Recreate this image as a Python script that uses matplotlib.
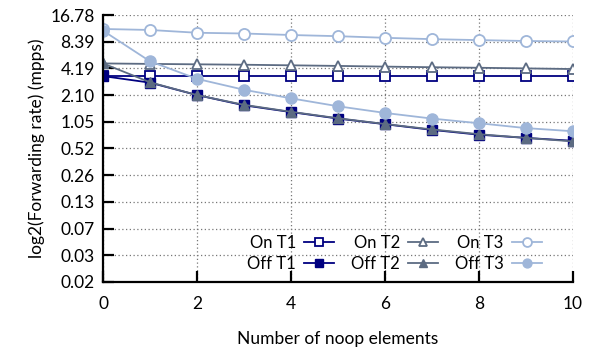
import matplotlib.pyplot as plt
import numpy as np

# Datos
noop = np.arange(0, 11)
on_t1 = [3.44, 3.44, 3.44, 3.44, 3.44, 3.44, 3.44, 3.44, 3.44, 3.44, 3.44]
off_t1 = [3.44, 2.90, 2.10, 1.61, 1.35, 1.14, 0.985, 0.85, 0.75, 0.69, 0.64]
on_t2 = [4.78, 4.72, 4.67, 4.62, 4.55, 4.48, 4.40, 4.33, 4.27, 4.20, 4.13]
off_t2 = [4.78, 2.93, 2.10, 1.63, 1.36, 1.15, 0.99, 0.86, 0.76, 0.69, 0.63]
on_t3 = [11.7, 11.4, 10.6, 10.4, 10.0, 9.7, 9.3, 8.98, 8.76, 8.56, 8.45]
off_t3 = [11.2, 5.05, 3.2, 2.41, 1.93, 1.57, 1.32, 1.14, 1.01, 0.89, 0.82]
yticks = [16.78 / 2 ** k for k in range(11)]
ylabels = ["16.78", "8.39", "4.19", "2.10", "1.05", "0.52", "0.26", "0.13", "0.07", "0.03", "0.02"]

plt.rcParams['font.family'] = ['Lato', 'DejaVu Sans']

navy = "#000080"
gris = "#5c6b82"
claro = "#9fb6d9"

fig = plt.figure(figsize=(5.92, 3.51), dpi=100)
ax = fig.add_axes([0.174, 0.197, 0.794, 0.76])

ax.plot(noop, on_t1, color=navy, marker="s", mfc="white", mec=navy, ms=7, mew=1.3, lw=1.3, label="On T1")
ax.plot(noop, off_t1, color=navy, marker="s", ms=7, lw=1.3, label="Off T1")
ax.plot(noop, on_t2, color=gris, marker="^", mfc="white", mec=gris, ms=7, mew=1.3, lw=1.3, label="On T2")
ax.plot(noop, off_t2, color=gris, marker="^", ms=7, lw=1.3, label="Off T2")
ax.plot(noop, on_t3, color=claro, marker="o", mfc="white", mec=claro, ms=8, mew=1.3, lw=1.3, label="On T3")
ax.plot(noop, off_t3, color=claro, marker="o", ms=8, lw=1.3, label="Off T3")

ax.set_yscale("log", base=2)
ax.set_ylim(16.78 / 1024, 16.78)
ax.set_xlim(0, 10)
ax.set_yticks(yticks)
ax.set_yticklabels(ylabels)
ax.minorticks_off()
ax.set_xticks([0, 2, 4, 6, 8, 10])

ax.grid(True, linestyle=(0, (1, 2)), color="#777777", lw=0.9)
ax.spines["top"].set_visible(False)
ax.spines["right"].set_visible(False)
ax.spines["left"].set_linewidth(1.6)
ax.spines["bottom"].set_linewidth(1.6)
ax.tick_params(direction="in", length=8, width=1.6, labelsize=12.5, pad=6)
ax.tick_params(axis="x", pad=10)

ax.set_xlabel("Number of noop elements", fontsize=12.5, labelpad=14)
ax.set_ylabel("log2(Forwarding rate) (mpps)", fontsize=12.5)

ax.legend(ncol=3, loc="lower right", markerfirst=False, frameon=False, fontsize=12,
          handlelength=1.8, columnspacing=1.0, handletextpad=0.5, labelspacing=0.3,
          borderaxespad=0.2, markerscale=0.8, bbox_to_anchor=(0.955, 0.0))

fig.savefig("out.png", dpi=100)
